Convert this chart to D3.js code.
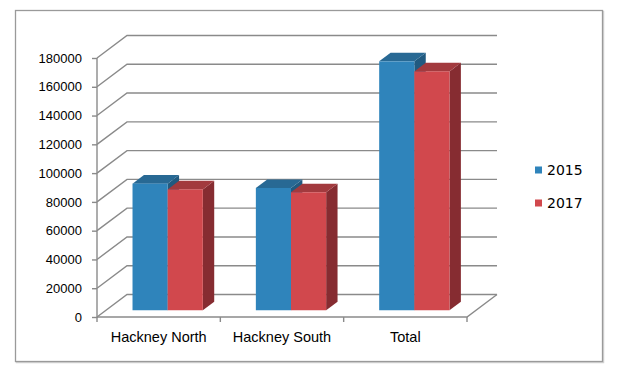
<!DOCTYPE html>
<html>
<head>
<meta charset="utf-8">
<script src="https://cdn.jsdelivr.net/npm/d3@7"></script>
<style>
  body { margin: 0; background: #fff; }
  svg { font-family: "DejaVu Sans", sans-serif; }
  .tick text { font-size: 13px; fill: #000; }
  .xaxis .tick text { font-size: 14.5px; }
</style>
</head>
<body>
<div id="vis"></div>
<script>
// chart values
const categories = ["Hackney North", "Hackney South", "Total"];
const years = ["2015", "2017"];
const values2015 = [88000, 85000, 173000];
const values2017 = [84000, 82000, 166000];
const yTicks = [0, 20000, 40000, 60000, 80000, 100000, 120000, 140000, 160000, 180000];

const WIDTH = 620, HEIGHT = 372;
const LEFT = 97, RIGHT = 467, FLOOR = 317, TOP = 58;
const DEPTH = {x: 30, y: -22.5};      // floor / wall depth
const BAR_OFF = 0.3;                   // bar front plane, fraction of depth
const BAR_DEPTH = 0.38;                // bar depth, fraction of depth

const colors = {
  "2015": {front: "#2f84bb", top: "#286994", side: "#215a80"},
  "2017": {front: "#d1484d", top: "#a23a3e", side: "#862c31"}
};

const svg = d3.select("#vis").append("svg")
  .attr("width", WIDTH).attr("height", HEIGHT);

// outer border with a soft shadow
svg.append("rect").attr("x", 16.5).attr("y", 11.5).attr("width", 587).attr("height", 351)
  .attr("fill", "none").attr("stroke", "#d4d4d4").attr("stroke-width", 1.5);
svg.append("rect").attr("x", 15.5).attr("y", 10.5).attr("width", 587).attr("height", 351)
  .attr("fill", "#fff").attr("stroke", "#9a9a9a").attr("stroke-width", 1.3);

const y = d3.scaleLinear().domain([0, 180000]).range([FLOOR, TOP]);
const x = d3.scaleBand().domain(categories).range([LEFT, RIGHT])
  .paddingInner(0.43).paddingOuter(0.215);
const xs = d3.scaleBand().domain(years).range([0, x.bandwidth()]);

const grid = svg.append("g").attr("stroke", "#8a8a8a").attr("stroke-width", 1.4).attr("fill", "none");

// back wall gridlines and their diagonals from the front axis
yTicks.forEach(t => {
  const yy = y(t);
  grid.append("path").attr("d",
    "M" + LEFT + "," + yy + "L" + (LEFT + DEPTH.x) + "," + (yy + DEPTH.y) +
    "L" + (RIGHT + DEPTH.x) + "," + (yy + DEPTH.y));
});
// floor: front edge and right diagonal
grid.append("path").attr("d",
  "M" + LEFT + "," + FLOOR + "L" + RIGHT + "," + FLOOR +
  "L" + (RIGHT + DEPTH.x) + "," + (FLOOR + DEPTH.y));

// category boundary ticks on the floor edge
const bounds = [LEFT].concat(categories.map(c => x(c) + x.bandwidth() + x.step() * 0.215));
grid.selectAll(".ctick").data(bounds).enter().append("line")
  .attr("x1", d => d).attr("x2", d => d)
  .attr("y1", FLOOR).attr("y2", FLOOR + 5);

// y axis
const yAxis = svg.append("g")
  .attr("transform", "translate(" + LEFT + ",0)")
  .call(d3.axisLeft(y).tickValues(yTicks).tickFormat(d3.format("d"))
    .tickSize(5).tickSizeOuter(0).tickPadding(10));
yAxis.selectAll("path, line").attr("stroke", "#8a8a8a").attr("stroke-width", 1.4);
yAxis.select(".domain").attr("d", "M0," + (FLOOR + 1) + "V" + TOP);

// x labels
const xAxis = svg.append("g").attr("class", "xaxis")
  .attr("transform", "translate(0," + FLOOR + ")")
  .call(d3.axisBottom(x).tickSize(0).tickPadding(15));
xAxis.select(".domain").remove();

// 3D bars
const series = years.map((yr, i) => ({year: yr, values: i === 0 ? values2015 : values2017}));
const ox = DEPTH.x * BAR_OFF, oy = DEPTH.y * BAR_OFF;
const dx = DEPTH.x * BAR_DEPTH, dy = DEPTH.y * BAR_DEPTH;

const bars = [];
categories.forEach((c, ci) => {
  series.forEach(s => bars.push({cat: c, year: s.year, value: s.values[ci]}));
});

const barG = svg.selectAll(".bar").data(bars).enter().append("g").attr("class", "bar");
barG.each(function(d) {
  const g = d3.select(this);
  const x0 = x(d.cat) + xs(d.year) + ox;
  const x1 = x0 + xs.bandwidth();
  const yb = y(0) + oy, yt = y(d.value) + oy;
  const col = colors[d.year];
  // side
  g.append("path").attr("fill", col.side)
    .attr("d", "M" + x1 + "," + yb + "L" + (x1 + dx) + "," + (yb + dy) +
      "L" + (x1 + dx) + "," + (yt + dy) + "L" + x1 + "," + yt + "Z");
  // top
  g.append("path").attr("fill", col.top)
    .attr("d", "M" + x0 + "," + yt + "L" + (x0 + dx) + "," + (yt + dy) +
      "L" + (x1 + dx) + "," + (yt + dy) + "L" + x1 + "," + yt + "Z");
  // front
  g.append("rect").attr("fill", col.front)
    .attr("x", x0).attr("y", yt).attr("width", x1 - x0).attr("height", yb - yt);
});

// legend
const legend = svg.selectAll(".legend").data(years).enter().append("g")
  .attr("transform", (d, i) => "translate(535," + (170 + i * 33) + ")");
legend.append("rect").attr("x", 0).attr("y", -3.5).attr("width", 7).attr("height", 7)
  .attr("fill", d => colors[d].front);
legend.append("text").attr("x", 12).attr("y", 0).attr("dy", "0.35em")
  .style("font-size", "14px").attr("fill", "#000").text(d => d);
</script>
</body>
</html>
